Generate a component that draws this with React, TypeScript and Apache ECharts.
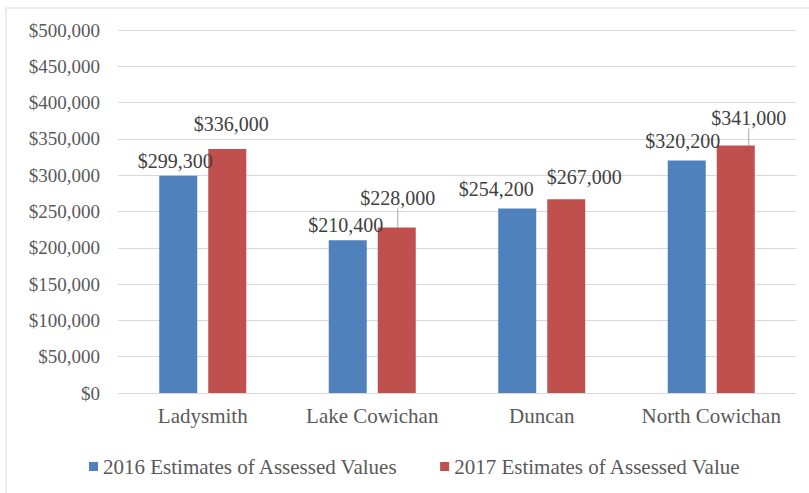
import React, { useEffect, useRef } from "react";
import * as echarts from "echarts";

const categories = ["Ladysmith", "Lake Cowichan", "Duncan", "North Cowichan"];
const values2016 = [299300, 210400, 254200, 320200];
const values2017 = [336000, 228000, 267000, 341000];
const seriesNames = ["2016 Estimates of Assessed Values", "2017 Estimates of Assessed Value"];
const yTicks = { min: 0, max: 500000, interval: 50000 };

// label nudges (pixels) for each data label, as placed in the reference
const nudge2016 = [[-3, 0], [-2, 0], [-21, -4], [-4, -5]];
const nudge2017 = [[4, -10], [1, -14], [18, -7], [13, -12]];
const leader2017 = [false, true, false, true];

const FONT = "'Liberation Serif', 'Times New Roman', serif";
const money = (v: number) => "$" + Math.round(v).toLocaleString("en-US");

export default function App() {
  const ref = useRef<HTMLDivElement>(null);
  useEffect(() => {
    document.body.style.margin = "0";
    const chart = echarts.init(ref.current!, null, { renderer: "svg" });
    const labelStyle = {
      show: true,
      position: "top" as const,
      distance: 5,
      fontFamily: FONT,
      fontSize: 20,
      color: "#404040",
      formatter: (p: any) => money(p.value),
    };
    chart.setOption({
      animation: false,
      backgroundColor: "#ffffff",
      textStyle: { fontFamily: FONT },
      graphic: [
        {
          type: "rect",
          shape: { x: 6, y: 8, width: 900, height: 600 },
          style: { fill: "none", stroke: "#d9d9d9", lineWidth: 1 },
          silent: true,
          z: -10,
        },
      ],
      grid: { left: 118, right: 13, top: 30, bottom: 100, containLabel: false },
      legend: {
        left: 84,
        top: 451,
        icon: "rect",
        itemWidth: 9,
        itemHeight: 9,
        itemGap: 42,
        textStyle: { fontFamily: FONT, fontSize: 21, color: "#595959" },
        data: seriesNames,
      },
      xAxis: {
        type: "category",
        data: categories,
        axisLine: { lineStyle: { color: "#d9d9d9", width: 1 } },
        axisTick: { show: false },
        axisLabel: { interval: 0, fontFamily: FONT, fontSize: 21, color: "#595959", margin: 12 },
      },
      yAxis: {
        type: "value",
        min: yTicks.min,
        max: yTicks.max,
        interval: yTicks.interval,
        axisLine: { show: false },
        axisTick: { show: false },
        splitLine: { lineStyle: { color: "#d9d9d9", width: 1 } },
        axisLabel: {
          fontFamily: FONT,
          fontSize: 19,
          color: "#595959",
          margin: 18,
          formatter: (v: number) => money(v),
        },
      },
      series: [
        {
          name: seriesNames[0],
          type: "bar",
          barWidth: 38,
          barGap: "29%",
          itemStyle: { color: "#4F81BD" },
          label: labelStyle,
          labelLayout: (p: any) => ({ dx: nudge2016[p.dataIndex][0], dy: nudge2016[p.dataIndex][1] }),
          labelLine: { show: false },
          data: values2016,
        },
        {
          name: seriesNames[1],
          type: "bar",
          barWidth: 38,
          itemStyle: { color: "#C0504D" },
          label: labelStyle,
          labelLayout: (p: any) => ({ dx: nudge2017[p.dataIndex][0], dy: nudge2017[p.dataIndex][1] }),
          labelLine: { show: false },
          data: values2017.map((v, i) => ({
            value: v,
            labelLine: { show: leader2017[i], lineStyle: { color: "#a6a6a6", width: 1 } },
          })),
        },
      ],
    });
    return () => chart.dispose();
  }, []);
  return (
    <div
      ref={ref}
      style={{ position: "fixed", left: 0, top: 0, width: 809, height: 493 }}
    />
  );
}
